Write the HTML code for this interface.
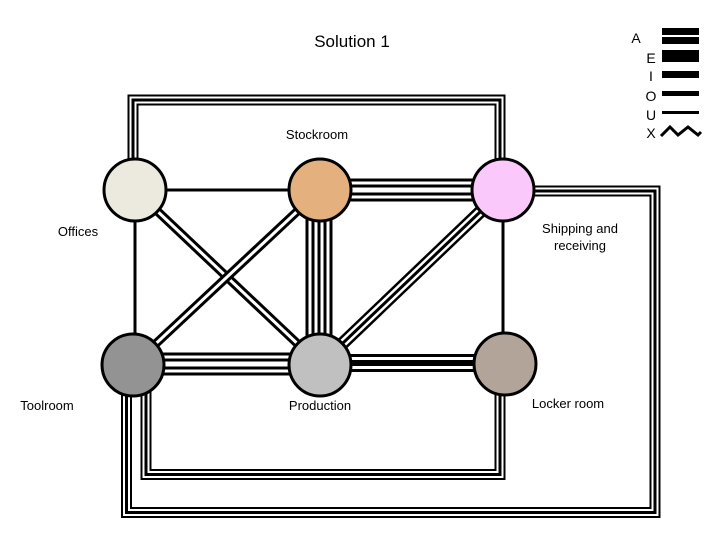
<!DOCTYPE html>
<html><head><meta charset="utf-8"><style>
html,body{margin:0;padding:0;background:#fff;}
svg{display:block;}
text{font-family:"Liberation Sans",sans-serif;fill:#000;}
</style></head><body>
<svg width="720" height="540" viewBox="0 0 720 540" xmlns="http://www.w3.org/2000/svg">
<g fill="none" stroke-linejoin="miter" stroke-linecap="butt">
<!-- top loop offices-shipping (3 lines) -->
<g>
<path d="M133 170 V100 H500 V170" stroke="#000" stroke-width="11"/>
<path d="M133 170 V100 H500 V170" stroke="#fff" stroke-width="7"/>
<path d="M133 170 V100 H500 V170" stroke="#000" stroke-width="3"/>
</g>
<!-- outer loop shipping-toolroom -->
<g>
<path d="M520 191 H655 V512.5 H126.5 V380" stroke="#000" stroke-width="11"/>
<path d="M520 191 H655 V512.5 H126.5 V380" stroke="#fff" stroke-width="7"/>
<path d="M520 191 H655 V512.5 H126.5 V380" stroke="#000" stroke-width="3"/>
</g>
<!-- inner loop toolroom-locker -->
<g>
<path d="M146 380 V474.5 H500 V380" stroke="#000" stroke-width="11"/>
<path d="M146 380 V474.5 H500 V380" stroke="#fff" stroke-width="7"/>
<path d="M146 380 V474.5 H500 V380" stroke="#000" stroke-width="3"/>
</g>
<!-- singles -->
<line x1="135" y1="190" x2="320" y2="190" stroke="#000" stroke-width="3"/>
<line x1="135" y1="190" x2="135" y2="365" stroke="#000" stroke-width="3"/>
<line x1="503" y1="190" x2="503" y2="365" stroke="#000" stroke-width="3"/>
<!-- stockroom-shipping 4 lines -->
<g>
<line x1="320" y1="190" x2="503" y2="190" stroke="#000" stroke-width="23"/>
<line x1="320" y1="190" x2="503" y2="190" stroke="#fff" stroke-width="17"/>
<line x1="320" y1="190" x2="503" y2="190" stroke="#000" stroke-width="11"/>
<line x1="320" y1="190" x2="503" y2="190" stroke="#fff" stroke-width="5"/>
</g>
<!-- stockroom-production 5 lines -->
<g>
<line x1="319" y1="190" x2="319" y2="365" stroke="#000" stroke-width="27"/>
<line x1="319" y1="190" x2="319" y2="365" stroke="#fff" stroke-width="21"/>
<line x1="319" y1="190" x2="319" y2="365" stroke="#000" stroke-width="15"/>
<line x1="319" y1="190" x2="319" y2="365" stroke="#fff" stroke-width="9"/>
<line x1="319" y1="190" x2="319" y2="365" stroke="#000" stroke-width="3"/>
</g>
<!-- X diagonals 2 lines -->
<g>
<line x1="135" y1="190" x2="320" y2="365" stroke="#000" stroke-width="9"/>
<line x1="135" y1="190" x2="320" y2="365" stroke="#fff" stroke-width="3"/>
<line x1="320" y1="190" x2="133" y2="365" stroke="#000" stroke-width="9"/>
<line x1="320" y1="190" x2="133" y2="365" stroke="#fff" stroke-width="3"/>
</g>
<!-- shipping-production 3 lines -->
<g>
<line x1="503" y1="190" x2="320" y2="365" stroke="#000" stroke-width="13"/>
<line x1="503" y1="190" x2="320" y2="365" stroke="#fff" stroke-width="8"/>
<line x1="503" y1="190" x2="320" y2="365" stroke="#000" stroke-width="3"/>
</g>
<!-- toolroom-production 4 lines -->
<g>
<line x1="133" y1="364" x2="320" y2="364" stroke="#000" stroke-width="23"/>
<line x1="133" y1="364" x2="320" y2="364" stroke="#fff" stroke-width="17"/>
<line x1="133" y1="364" x2="320" y2="364" stroke="#000" stroke-width="11"/>
<line x1="133" y1="364" x2="320" y2="364" stroke="#fff" stroke-width="5"/>
</g>
<!-- production-locker 3 lines -->
<g>
<line x1="320" y1="363" x2="505" y2="363" stroke="#000" stroke-width="18"/>
<line x1="320" y1="363" x2="505" y2="363" stroke="#fff" stroke-width="12"/>
<line x1="320" y1="363" x2="505" y2="363" stroke="#000" stroke-width="6"/>
</g>
</g>
<!-- nodes -->
<g stroke="#000" stroke-width="3">
<circle cx="135" cy="190" r="31" fill="#ece9df"/>
<circle cx="320" cy="190" r="31" fill="#e4b07e"/>
<circle cx="503" cy="190" r="31" fill="#fbc8fb"/>
<circle cx="133" cy="365" r="31" fill="#939393"/>
<circle cx="320" cy="365" r="31" fill="#c0c0c0"/>
<circle cx="505" cy="364" r="31" fill="#b3a49a"/>
</g>
<!-- labels -->
<text x="352" y="47" font-size="17" text-anchor="middle">Solution 1</text>
<text x="317" y="139" font-size="13" text-anchor="middle">Stockroom</text>
<text x="78" y="236" font-size="13" text-anchor="middle">Offices</text>
<text x="580" y="233" font-size="13" text-anchor="middle">Shipping and</text>
<text x="580" y="250" font-size="13" text-anchor="middle">receiving</text>
<text x="47" y="410" font-size="13" text-anchor="middle">Toolroom</text>
<text x="320" y="410" font-size="13" text-anchor="middle">Production</text>
<text x="568" y="408" font-size="13" text-anchor="middle">Locker room</text>
<!-- legend -->
<text x="636" y="43" font-size="14" text-anchor="middle">A</text>
<text x="651" y="63" font-size="14" text-anchor="middle">E</text>
<text x="651" y="81" font-size="14" text-anchor="middle">I</text>
<text x="651" y="101" font-size="14" text-anchor="middle">O</text>
<text x="651" y="120" font-size="14" text-anchor="middle">U</text>
<text x="651" y="138" font-size="14" text-anchor="middle">X</text>
<rect x="662" y="28" width="37" height="16" fill="#000"/>
<rect x="662" y="35" width="37" height="2" fill="#fff"/>
<rect x="662" y="50" width="37" height="12" fill="#000"/>
<rect x="662" y="71" width="37" height="7" fill="#000"/>
<rect x="662" y="91" width="37" height="5" fill="#000"/>
<rect x="662" y="111" width="37" height="3" fill="#000"/>
<polyline points="661,136 670,127 678,135 688,127 698,135 701,132" fill="none" stroke="#000" stroke-width="3"/>
</svg>
</body></html>
